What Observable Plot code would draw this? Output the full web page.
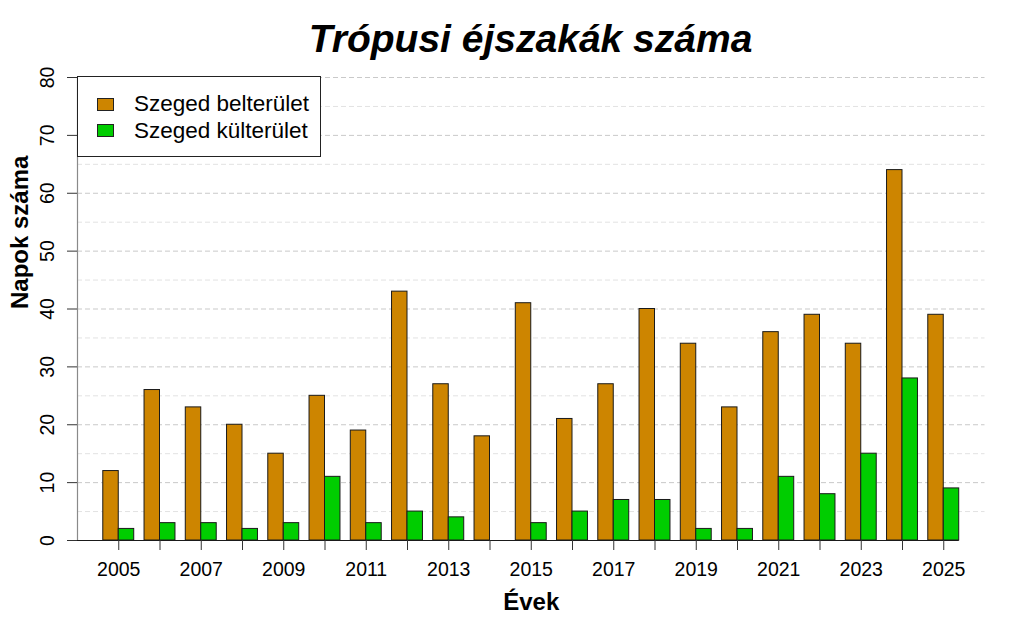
<!DOCTYPE html>
<html>
<head>
<meta charset="utf-8">
<script src="https://cdn.jsdelivr.net/npm/d3@7"></script>
<script src="https://cdn.jsdelivr.net/npm/@observablehq/plot@0.6"></script>
<style>
  html, body { margin: 0; padding: 0; background: #fff; }
  #wrap { position: relative; width: 1024px; height: 637px; font-family: "Liberation Sans", Arial, sans-serif; overflow: hidden; }
  #title { position: absolute; left: 77px; width: 907px; top: 19px; text-align: center; font-size: 39px; line-height: 40px; font-weight: bold; font-style: italic; color: #000; }
  #legend { position: absolute; left: 77px; top: 76px; width: 244px; height: 81px; box-sizing: border-box; border: 1px solid #222; background: #fff; }
  .sw { position: absolute; left: 19px; width: 17px; height: 13px; border: 1px solid #222; box-sizing: border-box; }
  .lt { position: absolute; left: 56px; font-size: 22.5px; line-height: 26px; color: #000; white-space: nowrap; }
  svg { position: absolute; left: 0; top: 0; }
</style>
</head>
<body>
<div id="wrap"></div>
<script>
// ---- data ----
const years = [2005, 2006, 2007, 2008, 2009, 2010, 2011, 2012, 2013, 2014, 2015,
               2016, 2017, 2018, 2019, 2020, 2021, 2022, 2023, 2024, 2025];
const belterulet = [12, 26, 23, 20, 15, 25, 19, 43, 27, 18, 41, 21, 27, 40, 34, 23, 36, 39, 34, 64, 39];
const kulterulet = [2, 3, 3, 2, 3, 11, 3, 5, 4, 0, 3, 5, 7, 7, 2, 2, 11, 8, 15, 28, 9];
const seriesNames = ["Szeged belterület", "Szeged külterület"];
const seriesColors = ["#CD8500", "#00CD00"];
const yTicks = [0, 10, 20, 30, 40, 50, 60, 70, 80];
const yMinorGrid = [5, 15, 25, 35, 45, 55, 65, 75];
const xLabelYears = [2005, 2007, 2009, 2011, 2013, 2015, 2017, 2019, 2021, 2023, 2025];
const titleText = "Trópusi éjszakák száma";
const xTitle = "Évek";
const yTitle = "Napok száma";

// ---- layout helpers ----
const barW = 0.375; // bar width in year units
const xDomain = [years[0] - 1, years[years.length - 1] + 1];
const yDomain = [0, 80];

const rowsB = years.map((year, i) => ({year, value: belterulet[i]}));
const rowsK = years.map((year, i) => ({year, value: kulterulet[i]}));

const wrap = document.getElementById("wrap");

const chart = Plot.plot({
  width: 1024,
  height: 637,
  marginLeft: 77,
  marginRight: 39.5,
  marginTop: 77,
  marginBottom: 97,
  style: {fontFamily: "'Liberation Sans', Arial, sans-serif", background: "#fff", color: "#000"},
  x: {domain: xDomain, axis: null},
  y: {domain: yDomain, axis: null},
  marks: [
    Plot.ruleY(yMinorGrid, {stroke: "#e2e2e2", strokeDasharray: "5,3", strokeWidth: 1}),
    Plot.ruleY(yTicks.filter(d => d > 0), {stroke: "#c9c9c9", strokeDasharray: "5,3", strokeWidth: 1}),
    Plot.rectY(rowsB, {x1: d => d.year - barW, x2: d => d.year, y: "value", fill: seriesColors[0], stroke: "#1a1a1a", strokeWidth: 1}),
    Plot.rectY(rowsK, {x1: d => d.year, x2: d => d.year + barW, y: "value", fill: seriesColors[1], stroke: "#1a1a1a", strokeWidth: 1}),
    Plot.ruleY([0], {x1: xDomain[0], x2: years[years.length - 1] + barW, stroke: "#1a1a1a", strokeWidth: 1}),
    Plot.ruleX([xDomain[0]], {y1: yDomain[0], y2: yDomain[1], stroke: "#8a8a8a", strokeWidth: 1.2}),
    Plot.axisX({
      ticks: years,
      tickSize: 10,
      tickPadding: 12,
      tickFormat: d => xLabelYears.includes(d) ? String(d) : "",
      fontSize: 19.5,
      stroke: "#333",
      label: null
    }),
    Plot.axisY({
      ticks: yTicks,
      tickSize: 10,
      tickRotate: -90,
      tickPadding: 14,
      fontSize: 19.5,
      stroke: "#333",
      label: null
    }),
    Plot.text([xTitle], {frameAnchor: "bottom", text: d => d, dy: 62, fontSize: 24, fontWeight: "bold", lineAnchor: "middle"}),
    Plot.text([yTitle], {frameAnchor: "left", text: d => d, dx: -57.5, rotate: -90, fontSize: 24, fontWeight: "bold", lineAnchor: "middle"})
  ]
});
wrap.appendChild(chart);

const title = document.createElement("div");
title.id = "title";
title.textContent = titleText;
wrap.appendChild(title);

const legend = document.createElement("div");
legend.id = "legend";
seriesNames.forEach((name, i) => {
  const sw = document.createElement("div");
  sw.className = "sw";
  sw.style.background = seriesColors[i];
  sw.style.top = (20.5 + i * 26.5) + "px";
  legend.appendChild(sw);
  const lt = document.createElement("div");
  lt.className = "lt";
  lt.style.top = (14 + i * 26.5) + "px";
  lt.textContent = name;
  legend.appendChild(lt);
});
wrap.appendChild(legend);
</script>
</body>
</html>
